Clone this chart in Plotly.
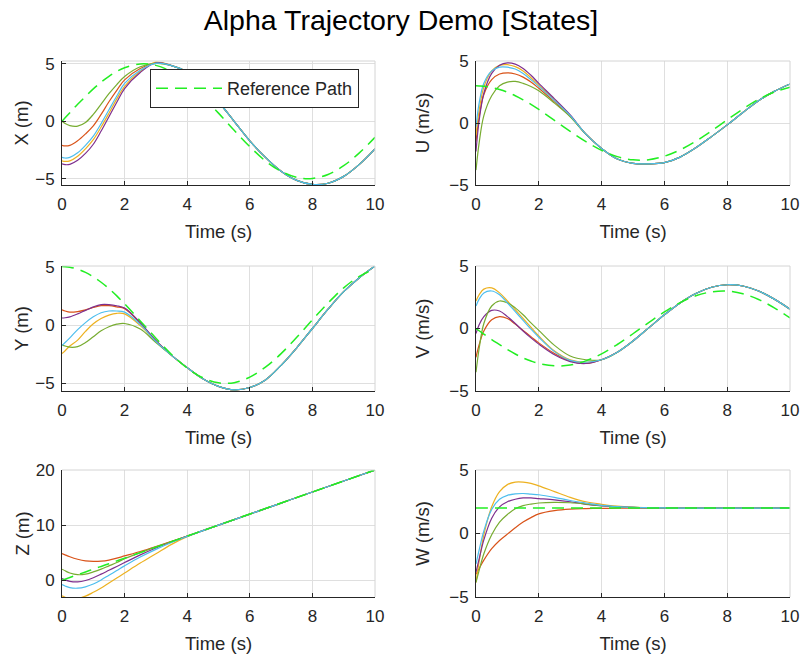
import plotly.graph_objects as go

# ---------------- data ----------------
t = [0, 0.1, 0.25, 0.5, 0.75, 1, 1.25, 1.5, 1.75, 2, 2.5, 3, 3.5, 4, 4.5,
     5, 5.5, 6, 6.5, 7, 7.5, 8, 8.5, 9, 9.5, 10]

x_tail = [4.85, 4.3, 3.2, 1.7, 0.0, -1.7, -3.15, -4.35, -5.15, -5.5, -5.4, -4.8, -3.75, -2.4]
x_orange = [-2.1, -2.15, -2.1, -1.7, -1.1, -0.4, 0.6, 1.7, 2.7, 3.6, 4.6, 5.05] + x_tail
x_yellow = [-3.45, -3.5, -3.45, -3.05, -2.4, -1.6, -0.5, 0.7, 1.95, 3.05, 4.35, 5.15] + x_tail
x_purple = [-3.7, -3.78, -3.75, -3.4, -2.8, -2.0, -0.85, 0.4, 1.65, 2.85, 4.25, 5.1] + x_tail
x_green = [0.0, -0.2, -0.38, -0.42, -0.1, 0.6, 1.5, 2.4, 3.2, 3.9, 4.75, 5.05] + x_tail
x_lblue = [-3.15, -3.2, -3.15, -2.75, -2.1, -1.3, -0.2, 1.0, 2.2, 3.3, 4.45, 5.05] + x_tail
x_ref = [0, 0.3, 0.75, 1.48, 2.16, 2.82, 3.41, 3.92, 4.34, 4.66, 4.99, 4.87, 4.32, 3.38,
         2.14, 0.71, -0.79, -2.21, -3.46, -4.36, -4.89, -4.98, -4.63, -3.87, -2.75, -1.4]

u_tail = [-0.9, -2.05, -2.9, -3.25, -3.3, -3.2, -2.75, -2.0, -1.1, -0.15, 0.85, 1.8, 2.55, 3.15]
u_orange = [-1.5, 0.5, 2.3, 3.5, 3.95, 4.05, 3.95, 3.7, 3.3, 2.8, 1.7, 0.55] + u_tail
u_yellow = [-1.0, 1.0, 2.9, 4.2, 4.65, 4.7, 4.55, 4.2, 3.65, 3.05, 1.85, 0.6] + u_tail
u_purple = [-2.3, 0.2, 2.4, 4.0, 4.65, 4.85, 4.75, 4.4, 3.85, 3.2, 1.95, 0.65] + u_tail
u_green = [-3.8, -1.6, 0.6, 2.2, 3.0, 3.3, 3.35, 3.2, 2.95, 2.6, 1.6, 0.5] + u_tail
u_lblue = [-0.3, 1.6, 3.2, 4.2, 4.5, 4.5, 4.35, 4.0, 3.5, 2.95, 1.8, 0.6] + u_tail
u_ref = [3.0, 2.99, 2.97, 2.87, 2.7, 2.48, 2.2, 1.87, 1.5, 1.09, 0.21, -0.68, -1.51, -2.21,
         -2.71, -2.97, -2.96, -2.68, -2.17, -1.47, -0.63, 0.26, 1.13, 1.91, 2.5, 2.88]

y_tail = [-2.6, -3.65, -4.6, -5.25, -5.55, -5.35, -4.7, -3.45, -1.95, -0.3, 1.35, 2.85, 4.05, 5.05]
y_orange = [1.3, 1.2, 1.1, 1.15, 1.3, 1.5, 1.65, 1.65, 1.55, 1.4, 0.15, -1.35] + y_tail
y_yellow = [-2.45, -2.2, -1.8, -1.3, -0.55, 0.1, 0.55, 0.85, 1.0, 0.95, -0.05, -1.4] + y_tail
y_purple = [0.6, 0.62, 0.7, 0.95, 1.25, 1.55, 1.75, 1.75, 1.65, 1.45, 0.2, -1.35] + y_tail
y_green = [-1.7, -1.8, -1.9, -1.85, -1.5, -1.0, -0.5, -0.15, 0.07, 0.13, -0.35, -1.5] + y_tail
y_lblue = [-1.75, -1.5, -1.1, -0.4, 0.2, 0.7, 1.05, 1.2, 1.2, 1.1, 0.05, -1.4] + y_tail
y_ref = [5, 4.99, 4.94, 4.78, 4.5, 4.13, 3.66, 3.11, 2.49, 1.81, 0.35, -1.13, -2.52, -3.69,
         -4.52, -4.95, -4.94, -4.46, -3.61, -2.45, -1.05, 0.44, 1.88, 3.18, 4.17, 4.8]

v_tail = [-2.5, -1.9, -1.0, 0.05, 1.1, 2.05, 2.8, 3.3, 3.5, 3.4, 3.0, 2.35, 1.55]
v_orange = [-2.3, -1.3, -0.2, 0.7, 0.95, 0.8, 0.35, -0.15, -0.65, -1.15, -2.0, -2.6, -2.8] + v_tail
v_yellow = [2.2, 2.7, 3.15, 3.25, 2.85, 2.2, 1.5, 0.8, 0.1, -0.6, -1.8, -2.5, -2.7] + v_tail
v_purple = [-0.4, 0.3, 0.95, 1.45, 1.4, 0.95, 0.4, -0.2, -0.75, -1.25, -2.1, -2.65, -2.8] + v_tail
v_green = [-3.5, -1.6, 0.4, 1.8, 2.2, 2.05, 1.65, 1.1, 0.45, -0.15, -1.35, -2.2, -2.5] + v_tail
v_lblue = [1.8, 2.35, 2.85, 3.0, 2.7, 2.05, 1.35, 0.65, -0.05, -0.7, -1.85, -2.55, -2.7] + v_tail
v_ref = [0, -0.18, -0.45, -0.89, -1.29, -1.69, -2.04, -2.35, -2.6, -2.8, -2.99, -2.92, -2.59,
         -2.03, -1.28, -0.42, 0.47, 1.33, 2.07, 2.62, 2.93, 2.99, 2.78, 2.32, 1.65, 0.84]

z_tail = [9, 10, 11, 12, 13, 14, 15, 16, 17, 18, 19, 20]
z_orange = [4.85, 4.6, 4.25, 3.8, 3.5, 3.4, 3.45, 3.65, 4.0, 4.4, 5.2, 6.1, 7.05, 8.0] + z_tail
z_yellow = [-2.85, -3.1, -3.35, -3.3, -2.9, -2.2, -1.4, -0.5, 0.4, 1.3, 3.1, 4.8, 6.5, 7.9] + z_tail
z_purple = [0.3, 0.05, -0.2, -0.3, -0.05, 0.45, 1.1, 1.8, 2.5, 3.2, 4.6, 5.85, 6.95, 8.0] + z_tail
z_green = [2.0, 1.7, 1.3, 1.0, 1.1, 1.5, 2.0, 2.6, 3.2, 3.9, 5.0, 6.05, 7.0, 8.0] + z_tail
z_lblue = [-0.8, -1.05, -1.35, -1.45, -1.2, -0.7, 0.05, 0.9, 1.75, 2.6, 4.2, 5.6, 6.85, 7.95] + z_tail
z_ref = [0, 0.2, 0.5, 1, 1.5, 2, 2.5, 3, 3.5, 4, 5, 6, 7, 8, 9, 10, 11, 12, 13, 14, 15, 16,
         17, 18, 19, 20]

w_tail = [2.0, 2.0, 2.0, 2.0, 2.0, 2.0, 2.0, 2.0]
w_orange = [-3.2, -2.75, -2.1, -1.2, -0.55, -0.05, 0.45, 0.9, 1.25, 1.55, 1.8, 1.92, 1.96,
            1.98, 1.99, 2.0, 2.0, 2.0] + w_tail
w_yellow = [-3.85, -2.2, -0.1, 2.1, 3.3, 3.85, 4.05, 4.05, 3.95, 3.75, 3.3, 2.85, 2.5, 2.3,
            2.15, 2.07, 2.03, 2.01] + w_tail
w_purple = [-3.05, -2.0, -0.5, 1.2, 2.1, 2.5, 2.7, 2.8, 2.8, 2.75, 2.65, 2.5, 2.3, 2.18,
            2.1, 2.05, 2.02, 2.01] + w_tail
w_green = [-3.85, -2.9, -1.6, -0.1, 0.9, 1.5, 1.95, 2.2, 2.32, 2.4, 2.45, 2.42, 2.32, 2.2,
           2.1, 2.05, 2.02, 2.01] + w_tail
w_lblue = [-2.4, -1.3, 0.2, 1.9, 2.7, 3.0, 3.12, 3.15, 3.1, 3.05, 2.85, 2.6, 2.4, 2.22,
           2.12, 2.06, 2.03, 2.01] + w_tail
w_ref = [2.0] * 26

panels = [
    ("X (m)", [x_orange, x_yellow, x_purple, x_green, x_lblue], x_ref, [-5.55, 5.25], [-5, 0, 5]),
    ("U (m/s)", [u_orange, u_yellow, u_purple, u_green, u_lblue], u_ref, [-5, 5], [-5, 0, 5]),
    ("Y (m)", [y_orange, y_yellow, y_purple, y_green, y_lblue], y_ref, [-5.65, 5.05], [-5, 0, 5]),
    ("V (m/s)", [v_orange, v_yellow, v_purple, v_green, v_lblue], v_ref, [-5, 5], [-5, 0, 5]),
    ("Z (m)", [z_orange, z_yellow, z_purple, z_green, z_lblue], z_ref, [-3.05, 20], [0, 10, 20]),
    ("W (m/s)", [w_orange, w_yellow, w_purple, w_green, w_lblue], w_ref, [-5, 5], [-5, 0, 5]),
]
x_ticks = [0, 2, 4, 6, 8, 10]

# ---------------- styling ----------------
colors = ["#D95319", "#EDB120", "#7E2F8E", "#77AC30", "#4DBEEE"]
REF_COLOR = "#22EE22"
FONT = "Liberation Sans, Arial, Helvetica, sans-serif"
TXT = "#262626"
W, H = 802, 659
cols = [(62, 375), (476, 790)]
rows = [(61, 185), (266, 391), (470, 597)]
ytitle_standoff = [1, 14]
TICK_SIZE = 17
LABEL_SIZE = 18.5

fig = go.Figure()
layout = dict(
    width=W, height=H, autosize=False,
    margin=dict(l=0, r=0, t=0, b=0, pad=0, autoexpand=False),
    paper_bgcolor="white", plot_bgcolor="white",
    font=dict(family=FONT, color=TXT, size=TICK_SIZE),
    showlegend=True,
    title=dict(text="Alpha Trajectory Demo [States]", x=0.5, xanchor="center",
               y=1 - 20 / H, yanchor="middle",
               font=dict(family=FONT, size=28.5, color="#000000")),
    legend=dict(x=150 / W, y=1 - 69 / H, xanchor="left", yanchor="top",
                bgcolor="white", bordercolor=TXT, borderwidth=1, itemwidth=66,
                font=dict(family=FONT, size=18, color=TXT)),
)
shapes = []

for i, (label, series, ref, yr, yt) in enumerate(panels):
    r, c = divmod(i, 2)
    n = "" if i == 0 else str(i + 1)
    xa, ya = "x" + n, "y" + n
    for s, col in zip(series, colors):
        fig.add_trace(go.Scatter(x=t, y=s, xaxis=xa, yaxis=ya, mode="lines",
                                 line=dict(color=col, width=1.2, shape="spline"),
                                 showlegend=False, hoverinfo="skip"))
    fig.add_trace(go.Scatter(x=t, y=ref, xaxis=xa, yaxis=ya, mode="lines",
                             name="Reference Path",
                             line=dict(color=REF_COLOR, width=1.5, dash="12px,7px",
                                       shape="spline"),
                             showlegend=(i == 0)))
    x0, x1 = cols[c]
    y0, y1 = rows[r]
    layout["xaxis" + n] = dict(
        domain=[x0 / W, x1 / W], anchor=ya, range=[0, 10], tickvals=x_ticks,
        automargin=False,
        showgrid=True, gridcolor="#dfdfdf", zeroline=False,
        showline=True, linecolor=TXT, linewidth=1, mirror=False,
        ticks="inside", ticklen=4, tickcolor=TXT, ticklabelstandoff=4,
        tickfont=dict(family=FONT, size=TICK_SIZE, color=TXT),
        title=dict(text="Time (s)", font=dict(family=FONT, size=LABEL_SIZE, color=TXT), standoff=11),
    )
    layout["yaxis" + n] = dict(
        domain=[1 - y1 / H, 1 - y0 / H], anchor=xa, range=yr, tickvals=yt,
        automargin=False,
        showgrid=True, gridcolor="#dfdfdf", zeroline=False,
        showline=True, linecolor=TXT, linewidth=1, mirror=False,
        ticks="inside", ticklen=4, tickcolor=TXT, ticklabelstandoff=3,
        tickfont=dict(family=FONT, size=TICK_SIZE, color=TXT),
        title=dict(text=label, font=dict(family=FONT, size=LABEL_SIZE, color=TXT),
                   standoff=ytitle_standoff[c]),
    )
    shapes.append(dict(type="line", xref=xa + " domain", yref=ya + " domain",
                       x0=0, x1=1, y0=1, y1=1, line=dict(color="#d4d4d4", width=1)))
    shapes.append(dict(type="line", xref=xa + " domain", yref=ya + " domain",
                       x0=1, x1=1, y0=0, y1=1, line=dict(color="#d4d4d4", width=1)))

layout["shapes"] = shapes
fig.update_layout(**layout)
fig.write_html("out.html")
